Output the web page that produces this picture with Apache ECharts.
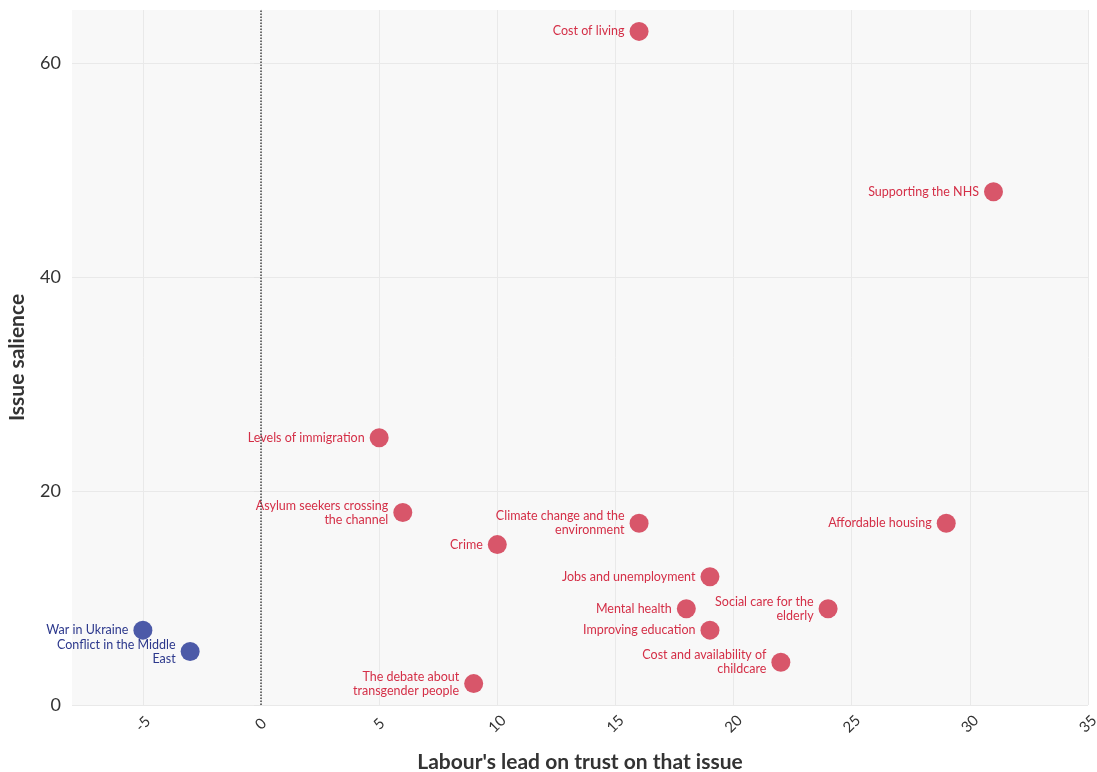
<!DOCTYPE html>
<html>
<head>
<meta charset="utf-8">
<script src="https://cdn.jsdelivr.net/npm/echarts@6/dist/echarts.min.js"></script>
<style>
html,body{margin:0;padding:0;background:#fff;}
#chart{width:1097px;height:772px;}
</style>
</head>
<body>
<div id="chart"></div>
<script>
const issueNames = [
  "Cost of living", "Supporting the NHS", "Levels of immigration",
  "Asylum seekers crossing the channel", "Crime", "Climate change and the environment",
  "Affordable housing", "Jobs and unemployment", "Mental health",
  "Social care for the elderly", "Improving education", "Cost and availability of childcare",
  "The debate about transgender people", "War in Ukraine", "Conflict in the Middle East"
];
const issueLabels = [
  "Cost of living", "Supporting the NHS", "Levels of immigration",
  "Asylum seekers crossing\nthe channel", "Crime", "Climate change and the\nenvironment",
  "Affordable housing", "Jobs and unemployment", "Mental health",
  "Social care for the\nelderly", "Improving education", "Cost and availability of\nchildcare",
  "The debate about\ntransgender people", "War in Ukraine", "Conflict in the Middle\nEast"
];
const labourLead = [16, 31, 5, 6, 10, 16, 29, 19, 18, 24, 19, 22, 9, -5, -3];
const salience = [63, 48, 25, 18, 15, 17, 17, 12, 9, 9, 7, 4, 2, 7, 5];
const xTicks = [-5, 0, 5, 10, 15, 20, 25, 30, 35];
const yTicks = [0, 20, 40, 60];

const RED = '#d8566a', RED_TEXT = '#d42f47';
const BLUE = '#4c5aa8', BLUE_TEXT = '#2c388c';

const pts = issueNames.map((n, i) => {
  const pos = labourLead[i] >= 0;
  return {
    name: n,
    value: [labourLead[i], salience[i]],
    itemStyle: { color: pos ? RED : BLUE, opacity: 1 },
    label: { formatter: issueLabels[i], color: pos ? RED_TEXT : BLUE_TEXT }
  };
});

const chart = echarts.init(document.getElementById('chart'));
chart.setOption({
  animation: false,
  textStyle: { fontFamily: 'Lato' },
  grid: { left: 72, right: 9, top: 10, bottom: 67, show: true, backgroundColor: '#f8f8f8', borderWidth: 0,
          containLabel: false, outerBoundsMode: 'none' },
  xAxis: {
    type: 'value', min: -8, max: 35,
    name: "Labour's lead on trust on that issue",
    nameLocation: 'middle', nameGap: 47, nameMoveOverlap: false,
    nameTextStyle: { fontSize: 21, fontWeight: 'bold', color: '#333', fontFamily: 'Lato' },
    axisLine: { show: false },
    axisTick: { show: false, customValues: xTicks },
    axisLabel: { customValues: xTicks, rotate: 45, fontSize: 15, color: '#333', margin: 19,
                 align: 'center', verticalAlign: 'middle' },
    splitLine: { show: true, lineStyle: { color: '#e9e9e9', width: 1 } }
  },
  yAxis: {
    type: 'value', min: 0, max: 65,
    name: 'Issue salience',
    nameLocation: 'middle', nameGap: 44, nameMoveOverlap: false,
    nameTextStyle: { fontSize: 21, fontWeight: 'bold', color: '#333', fontFamily: 'Lato' },
    axisLine: { show: true, lineStyle: { color: '#e9e9e9' } },
    axisTick: { show: true, customValues: yTicks, length: 7, lineStyle: { color: '#e4e4e4' } },
    axisLabel: { customValues: yTicks, fontSize: 18, color: '#333', margin: 11 },
    splitLine: { show: true, lineStyle: { color: '#e9e9e9', width: 1 } }
  },
  series: [{
    type: 'scatter',
    symbolSize: 19,
    data: pts,
    label: { show: true, position: 'left', distance: 5, fontSize: 12.5, fontFamily: 'Lato', lineHeight: 14, align: 'right' },
    markLine: {
      silent: true, symbol: 'none',
      label: { show: false },
      lineStyle: { type: 'dotted', color: '#444', width: 1.5 },
      data: [{ xAxis: 0 }]
    }
  }]
});
</script>
</body>
</html>
